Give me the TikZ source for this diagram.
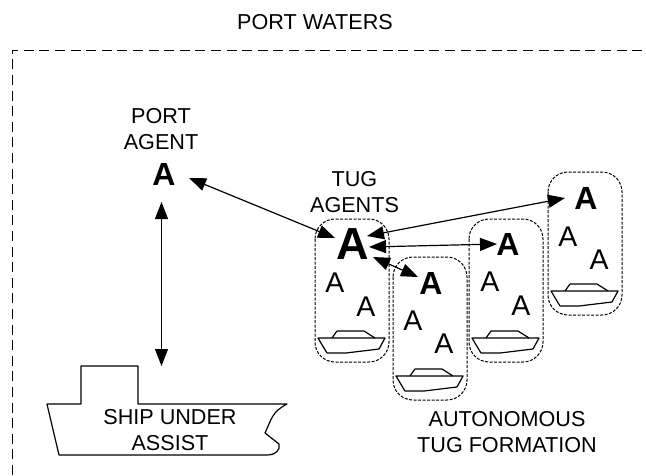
\documentclass[tikz,border=0pt]{standalone}
\usepackage{fontspec}
\setmainfont{Liberation Sans}
\usetikzlibrary{arrows.meta}
\tikzset{
 lbl/.style={inner sep=0pt,align=center,font=\fontsize{21.6}{26}\selectfont},
 agA/.style={inner sep=0pt,font=\fontsize{28.5}{30}\selectfont},
 agB/.style={inner sep=0pt,font=\bfseries\fontsize{32}{32}\selectfont},
 agC/.style={inner sep=0pt,font=\bfseries\fontsize{45}{45}\selectfont},
 zone/.style={draw,line width=1pt,dash pattern=on 3pt off 1.5pt,rounded corners=20pt},
 boatline/.style={draw,line width=1.2pt,line join=round},
 link/.style={draw,line width=1.2pt,{Triangle[length=17pt,width=13pt]}-{Triangle[length=17pt,width=13pt]}}
}
\newcommand{\boat}[2]{\begin{scope}[shift={(#1,#2)}]
 \path[boatline] (3,119)--(70,119)--(64,130)--(31,134)--(12,134)--cycle;
 \path[boatline] (17,119)--(22,112)--(49,112)--(60,119);
\end{scope}}
\begin{document}
\begin{tikzpicture}[x=1pt,y=-1pt]
\useasboundingbox (0,0) rectangle (646,475);
\draw[line width=0.8pt,dash pattern=on 10pt off 5.6pt] (12,475)--(12,50)--(646,50);
\node[lbl] (pw) at (315,22) {PORT WATERS};
\node[lbl] (pa) at (161,129) {PORT\\AGENT};
\node[lbl] (ta) at (354.5,192) {TUG\\AGENTS};
\node[lbl] (atf) at (507,432) {AUTONOMOUS\\TUG FORMATION};
\foreach \n/\x/\y in {b1/315/219,b2/393/257,b3/469/219,b4/548/172}{
 \draw[zone] (\x,\y) rectangle (\x+74,\y+143);
 \boat{\x}{\y}
}
\node[agB] (port) at (164,174.5) {A};
\node[agC] (t1) at (353,244) {A};
\node[agB] (t2) at (431,283) {A};
\node[agB] (t3) at (508,244) {A};
\node[agB] (t4) at (586,198) {A};
\foreach \x/\y in {335/283,366/307,413/321,444/344,490/282,521/306,568/237,599/260}
 \node[agA] at (\x,\y) {A};
\coordinate (p1) at (189,178); \coordinate (p2) at (335,238);
\coordinate (v1) at (161.5,202); \coordinate (v2) at (161.5,366);
\path[link] (p1)--(p2);
\path[link] (v1)--(v2);
\path[link] (367,236)--(565,198);
\path[link] (369,247)--(497,244);
\path[link] (373,257)--(418,277);
\draw[line width=1.2pt,line join=round] (47,404)--(81,404)--(81,366)--(138,366)--(138,404)--(287,404)
 .. controls (272,412) and (272,418) .. (265,433)--(279,444)
 .. controls (281,450) and (275,455) .. (267,455)--(59,455)--cycle;
\node[lbl] (ship) at (170,430) {SHIP UNDER\\ASSIST};
\end{tikzpicture}
\end{document}
